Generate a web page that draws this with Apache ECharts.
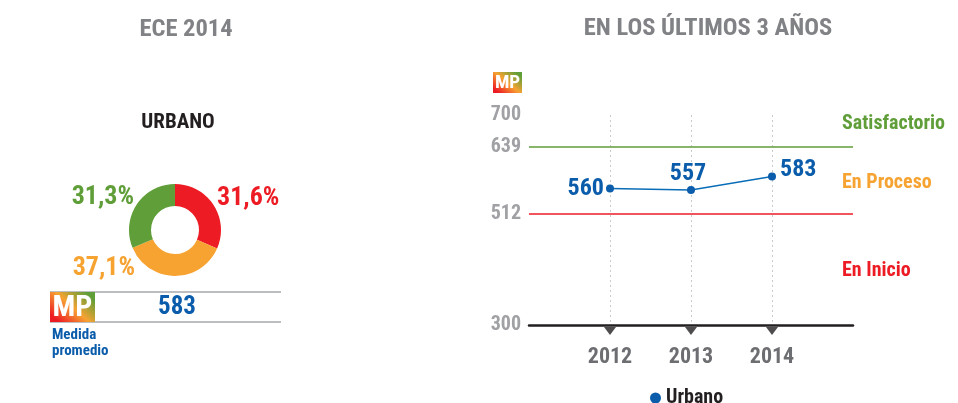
<!DOCTYPE html>
<html>
<head>
<meta charset="utf-8">
<style>html,body{margin:0;background:#fff}#chart{width:958px;height:403px}</style>
<script src="https://cdn.jsdelivr.net/npm/echarts@6/dist/echarts.min.js"></script>
</head>
<body>
<div id="chart"></div>
<script>
// Datos
const niveles = ['En Inicio', 'En Proceso', 'Satisfactorio'];
const porcentajes = [31.6, 37.1, 31.3];
const medidaPromedio = 583;
const anios = [2012, 2013, 2014];
const urbano = [560, 557, 583];
const yTicks = [300, 512, 639, 700];
const corteProceso = 512;
const corteSatisfactorio = 639;

const FONT = '"Roboto Condensed", "Liberation Sans", sans-serif';
const COLORS = {
    red: '#ED1C24', orange: '#F6A332', green: '#5F9E38', blue: '#0B5DAB', line: '#0A6DB8',
    title: '#808285', tick: '#A0A1A4', year: '#6D6E71', black: '#231F20', rule: '#A7A9AC'
};
const nivelColors = [COLORS.red, COLORS.orange, COLORS.green];

// Posicion de las etiquetas del anillo y de los valores de la linea
const pieLabels = [
    { x: 217, y: 198, align: 'left' },
    { x: 135, y: 268, align: 'right' },
    { x: 134, y: 197, align: 'right' }
];
const lineLabelPos = ['left', 'top', 'right'];
const lineLabelOffset = [[3, 0], [-3, 5], [-1, -6]];

const text = (x, y, str, size, fill, align) => ({
    type: 'text', x, y,
    style: { text: str, font: `bold ${size}px ${FONT}`, fill, align: align || 'center', verticalAlign: 'middle' }
});

const mpGradient = new echarts.graphic.LinearGradient(0.2, 1, 0.8, 0, [
    { offset: 0, color: '#ED1C24' }, { offset: 0.5, color: '#F6A332' }, { offset: 1, color: '#5F9E38' }
]);
const mpBadge = (x, y, w, h, size) => [
    { type: 'rect', shape: { x, y, width: w, height: h }, style: { fill: mpGradient } },
    text(x + w / 2, y + h / 2 + 1, 'MP', size, '#fff')
];
const rule = (y) => ({
    type: 'line', shape: { x1: 50, y1: y, x2: 281, y2: y }, style: { stroke: COLORS.rule, lineWidth: 1.5 }
});

const option = {
    animation: false,
    textStyle: { fontFamily: FONT },
    grid: { left: 529, width: 324, top: 115, height: 210 },
    legend: {
        data: ['Urbano'], left: 645, top: 383, itemWidth: 11, itemHeight: 11, itemGap: 3,
        icon: 'circle',
        textStyle: { fontFamily: FONT, fontWeight: 'bold', fontSize: 20, color: COLORS.black }
    },
    xAxis: {
        type: 'value', min: 2011, max: 2015, interval: 1,
        axisLine: { onZero: false, lineStyle: { color: COLORS.black, width: 2.5 } },
        axisTick: { show: false },
        axisLabel: {
            margin: 21, fontFamily: FONT, fontWeight: 'bold', fontSize: 22, color: COLORS.year,
            showMinLabel: false, showMaxLabel: false, formatter: (v) => String(v)
        },
        splitLine: {
            show: true, showMinLine: false, showMaxLine: false,
            lineStyle: { color: '#C9CACC', type: [2, 3], width: 1 }
        }
    },
    yAxis: {
        type: 'value', min: 300, max: 700,
        axisLine: { show: false },
        axisTick: { show: false },
        splitLine: { show: false },
        axisLabel: {
            customValues: yTicks, margin: 8, fontFamily: FONT, fontWeight: 'bold', fontSize: 20, color: COLORS.tick
        }
    },
    series: [
        {
            type: 'pie', center: [175, 230], radius: [24, 46], startAngle: 90, clockwise: true,
            silent: true,
            data: niveles.map((n, i) => ({ name: n, value: porcentajes[i], itemStyle: { color: nivelColors[i] } })),
            label: {
                show: true, fontFamily: FONT, fontWeight: 'bold', fontSize: 26,
                formatter: (p) => p.value.toFixed(1).replace('.', ',') + '%',
                color: 'inherit'
            },
            labelLine: { show: false },
            labelLayout: (p) => ({ ...pieLabels[p.dataIndex], verticalAlign: 'middle' })
        },
        {
            name: 'Urbano', type: 'line', z: 5,
            symbol: 'circle', symbolSize: 8,
            lineStyle: { color: COLORS.line, width: 1.5 },
            itemStyle: { color: COLORS.blue },
            data: anios.map((a, i) => ({
                value: [a, urbano[i]],
                label: {
                    show: true, position: lineLabelPos[i], distance: 5, offset: lineLabelOffset[i],
                    fontFamily: FONT, fontWeight: 'bold', fontSize: 24, color: COLORS.blue,
                    formatter: (p) => String(p.value[1])
                }
            })),
            markLine: {
                silent: true, symbol: 'none', label: { show: false },
                data: [
                    { yAxis: corteSatisfactorio, lineStyle: { color: COLORS.green, type: 'solid', width: 1.5 } },
                    { yAxis: corteProceso, lineStyle: { color: COLORS.red, type: 'solid', width: 1.5 } }
                ]
            }
        },
        {
            // marcas triangulares bajo el eje
            name: 'marcas', type: 'scatter', silent: true, clip: false,
            symbol: 'triangle', symbolRotate: 180, symbolSize: [12, 8], symbolOffset: [0, 6],
            itemStyle: { color: COLORS.black },
            data: anios.map((a) => [a, yTicks[0]])
        }
    ],
    graphic: [
        text(186, 30, 'ECE 2014', 24.5, COLORS.title),
        text(708, 29, 'EN LOS ÚLTIMOS 3 AÑOS', 24.5, COLORS.title),
        text(178, 123, 'URBANO', 21, COLORS.black),
        rule(292), rule(322),
        ...mpBadge(50, 292, 45, 30, 30),
        text(177, 308, String(medidaPromedio), 25, COLORS.blue),
        text(52, 335, 'Medida', 15, COLORS.blue, 'left'),
        text(52, 351, 'promedio', 15, COLORS.blue, 'left'),
        ...mpBadge(493, 72, 29, 21, 19),
        text(842, 124, niveles[2], 20, COLORS.green, 'left'),
        text(842, 183, niveles[1], 20, COLORS.orange, 'left'),
        text(842, 271, niveles[0], 20, COLORS.red, 'left')
    ]
};

echarts.init(document.getElementById('chart')).setOption(option);
</script>
</body>
</html>
